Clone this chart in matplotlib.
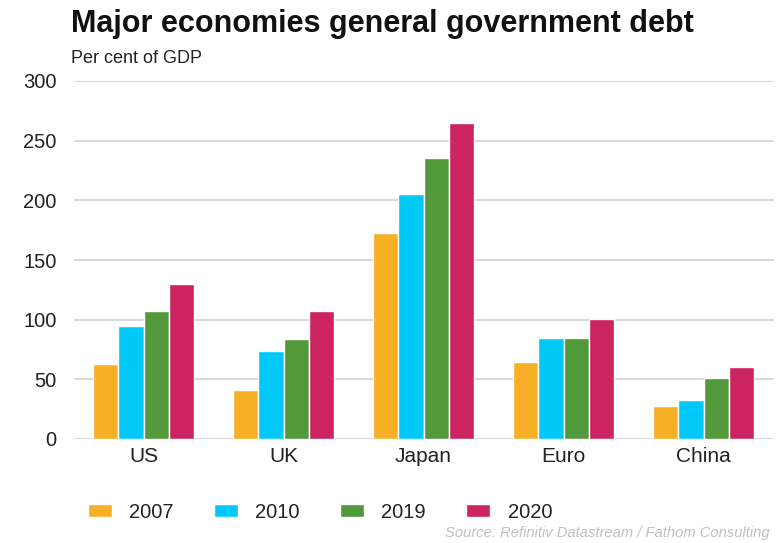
import matplotlib
matplotlib.use("Agg")
import matplotlib.pyplot as plt
import numpy as np

plt.rcParams['font.family'] = ['Liberation Sans', 'DejaVu Sans']

# Debt data, per cent of GDP
economies = ["US", "UK", "Japan", "Euro", "China"]
years = ["2007", "2010", "2019", "2020"]
debt_2007 = [63, 41, 173, 64.5, 28]
debt_2010 = [94.5, 73.5, 205.5, 85, 33]
debt_2019 = [107.5, 84, 235.5, 85, 51]
debt_2020 = [130, 107, 264.5, 100.5, 60.5]
series = [debt_2007, debt_2010, debt_2019, debt_2020]
colors = ["#F7AF26", "#00C9F7", "#52993C", "#CB2461"]
yticks = [0, 50, 100, 150, 200, 250, 300]

W, H = 779, 543
fig = plt.figure(figsize=(W / 100, H / 100), dpi=100)
ax = fig.add_axes([73.5 / W, (H - 439) / H, 700 / W, 358 / H])

x = np.arange(len(economies))
bw = 0.18
for i, (vals, c, yr) in enumerate(zip(series, colors, years)):
    ax.bar(x + (i - 1.5) * bw, vals, width=bw, color=c, edgecolor="white",
           linewidth=1.0, label=yr, zorder=3)

ax.set_xlim(-0.5, len(economies) - 0.5)
ax.set_ylim(0, 300)
ax.set_yticks(yticks)
ax.set_yticklabels([str(t) for t in yticks])
ax.set_xticks(x)
ax.set_xticklabels(economies)
ax.tick_params(axis="y", length=0, pad=12, labelsize=14.5, labelcolor="#222222")
ax.tick_params(axis="x", length=0, pad=6, labelsize=15, labelcolor="#222222")
ax.grid(axis="y", color="#d9d9d9", linewidth=1.5, zorder=0)
ax.set_axisbelow(True)
for s in ax.spines.values():
    s.set_visible(False)

fig.text(71 / W, 1 - 32 / H, "Major economies general government debt",
         fontsize=22, fontweight="bold", color="#111111", ha="left", va="baseline")
fig.text(71 / W, 1 - 63 / H, "Per cent of GDP",
         fontsize=13, color="#222222", ha="left", va="baseline")

leg = fig.legend(loc="center left", bbox_to_anchor=(88 / W, 1 - 512 / H), ncol=4,
                 frameon=False, fontsize=14.5, handlelength=1.2, handleheight=0.6,
                 handletextpad=0.85, columnspacing=2.0, borderpad=0,
                 borderaxespad=0)
for t in leg.get_texts():
    t.set_color("#222222")

fig.text(445 / W, 1 - 537 / H, "Source: Refinitiv Datastream / Fathom Consulting",
         fontsize=10.6, style="italic", color="#c0c0c0", ha="left", va="baseline")

fig.savefig("out.png", dpi=100)
